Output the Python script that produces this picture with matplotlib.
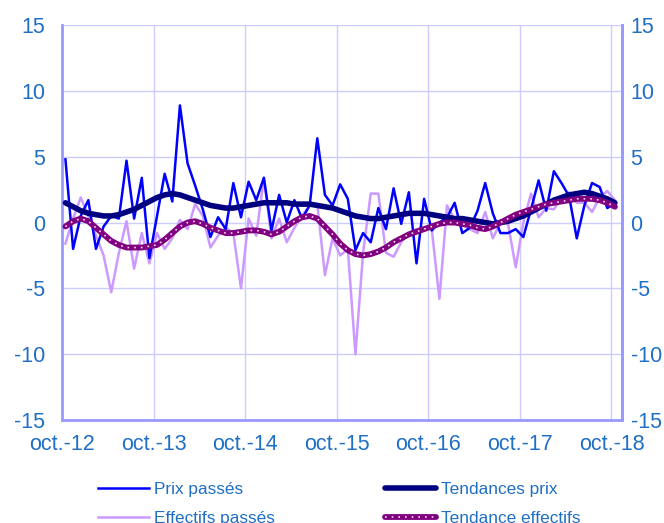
import numpy as np
import matplotlib
matplotlib.use("Agg")
import matplotlib.pyplot as plt
from matplotlib.legend_handler import HandlerTuple

plt.rcParams['font.family'] = ['Liberation Sans', 'DejaVu Sans']
plt.rcParams['axes.unicode_minus'] = False

tick_labels = ['oct.-12', 'oct.-13', 'oct.-14', 'oct.-15', 'oct.-16', 'oct.-17', 'oct.-18']

prix_passes = [4.8, -2.0, 0.5, 1.7, -2.0, -0.3, 0.5, 0.3, 4.7, 0.3, 3.4, -2.7,
               0.5, 3.7, 1.6, 8.9, 4.5, 2.8, 1.0, -1.1, 0.4, -0.5, 3.0, 0.4,
               3.1, 1.7, 3.4, -0.6, 2.1, 0.0, 1.7, 0.3, 1.3, 6.4, 2.1, 1.3,
               2.9, 1.8, -2.1, -0.8, -1.5, 1.1, -0.5, 2.6, -0.1, 2.3, -3.1, 1.8,
               -0.6, 0.0, 0.4, 1.5, -0.8, -0.4, 0.9, 3.0, 0.7, -0.8, -0.8, -0.5,
               -1.1, 1.0, 3.2, 0.9, 3.9, 3.0, 2.0, -1.2, 1.3, 3.0, 2.7, 1.1, 1.5]

effectifs_passes = [-1.6, 0.3, 1.9, 0.5, -1.0, -2.5, -5.3, -2.3, 0.1, -3.5, -0.8, -3.1,
                    -0.8, -2.0, -1.2, 0.2, -0.5, 1.4, 0.5, -1.9, -1.0, -0.4, -0.8, -5.0,
                    0.3, -1.0, 3.4, -1.2, 0.3, -1.5, -0.4, 0.5, 1.3, 1.4, -4.0, -1.2,
                    -2.5, -2.0, -10.0, -2.3, 2.2, 2.2, -2.3, -2.6, -1.5, -0.8, -0.5, -0.4,
                    -0.5, -5.8, 1.3, 0.2, -0.2, -0.5, -0.8, 0.8, -1.2, 0.0, -0.1, -3.4,
                    0.0, 2.2, 0.4, 1.1, 1.0, 1.9, 2.3, 1.5, 1.5, 0.8, 1.9, 2.4, 1.7]

tendances_prix = [1.5, 1.2, 0.9, 0.7, 0.6, 0.5, 0.5, 0.6, 0.8, 1.0, 1.3, 1.6,
                  1.9, 2.1, 2.2, 2.1, 1.9, 1.7, 1.5, 1.3, 1.2, 1.1, 1.1, 1.2,
                  1.3, 1.4, 1.5, 1.5, 1.5, 1.5, 1.4, 1.4, 1.4, 1.3, 1.2, 1.1,
                  0.9, 0.7, 0.5, 0.4, 0.3, 0.3, 0.4, 0.5, 0.6, 0.7, 0.7, 0.7,
                  0.6, 0.5, 0.4, 0.3, 0.3, 0.2, 0.1, 0.0, -0.1, 0.0, 0.1, 0.3,
                  0.5, 0.8, 1.1, 1.4, 1.7, 1.9, 2.1, 2.2, 2.3, 2.2, 2.0, 1.8, 1.5]

tendance_effectifs = [-0.3, 0.1, 0.3, 0.1, -0.4, -0.9, -1.4, -1.7, -1.9, -1.9, -1.9, -1.8,
                      -1.7, -1.3, -0.8, -0.3, 0.0, 0.1, -0.1, -0.4, -0.6, -0.8, -0.8, -0.7,
                      -0.6, -0.6, -0.7, -0.9, -0.7, -0.3, 0.1, 0.4, 0.5, 0.3, -0.3, -0.9,
                      -1.6, -2.1, -2.4, -2.5, -2.4, -2.2, -1.9, -1.5, -1.2, -0.9, -0.7, -0.5,
                      -0.3, -0.1, 0.0, 0.0, -0.1, -0.2, -0.4, -0.5, -0.3, 0.0, 0.3, 0.6,
                      0.8, 1.0, 1.2, 1.4, 1.5, 1.6, 1.7, 1.8, 1.8, 1.8, 1.7, 1.5, 1.2]

x = np.arange(len(prix_passes)) + 0.45
txt_col = '#1F6FC5'
axis_col = '#9999FF'
grid_col = '#CCCCFF'

fig = plt.figure(figsize=(6.64, 5.23), dpi=100)
ax = fig.add_axes([0.0934, 0.197, 0.8436, 0.755])

l1, = ax.plot(x, prix_passes, color='#0000FF', lw=1.8, zorder=3)
l2, = ax.plot(x, effectifs_passes, color='#CC99FF', lw=1.8, zorder=2)
l3, = ax.plot(x, tendances_prix, color='#000080', lw=4, solid_capstyle='round', zorder=4)
l4, = ax.plot(x, tendance_effectifs, color='#800080', lw=4.2, solid_capstyle='round', zorder=5)
l5, = ax.plot(x, tendance_effectifs, color='#F0D8F0', lw=1.2, ls=(0, (1, 3)), zorder=6)

ax.set_xlim(0, 73.4)
ax.set_ylim(-15, 15)
ax.set_yticks(np.arange(-15, 16, 5))
ax.set_xticks(np.arange(0, 73, 12))
ax.set_xticklabels(tick_labels)
ax.grid(True, color=grid_col, lw=1)
ax.set_axisbelow(True)

ax.spines['top'].set_visible(False)
for s in ['left', 'right', 'bottom']:
    ax.spines[s].set_color(axis_col)
    ax.spines[s].set_linewidth(2)

ax.tick_params(axis='both', length=0, labelsize=15.5, colors=txt_col)
ax.tick_params(axis='y', pad=12)
ax.tick_params(axis='x', pad=10)

ax2 = ax.twinx()
ax2.set_ylim(-15, 15)
ax2.set_yticks(np.arange(-15, 16, 5))
ax2.tick_params(axis='y', length=0, labelsize=15.5, colors=txt_col, pad=6)
for s in ['top', 'left', 'bottom']:
    ax2.spines[s].set_visible(False)
ax2.spines['right'].set_color(axis_col)
ax2.spines['right'].set_linewidth(2)

leg_kw = dict(loc='upper left', frameon=False, fontsize=12.4, labelcolor=txt_col,
              handlelength=3.0, handletextpad=0.25, labelspacing=0.85, borderpad=0,
              handler_map={tuple: HandlerTuple(ndivide=1, pad=0)})
leg1 = fig.legend([l1, l2], ['Prix passés', 'Effectifs passés'],
                  bbox_to_anchor=(89 / 664, 1 - 473 / 523), **leg_kw)
leg2 = fig.legend([l3, (l4, l5)], ['Tendances prix', 'Tendance effectifs'],
                  bbox_to_anchor=(376 / 664, 1 - 473 / 523), **leg_kw)

fig.savefig('out.png', dpi=100)
